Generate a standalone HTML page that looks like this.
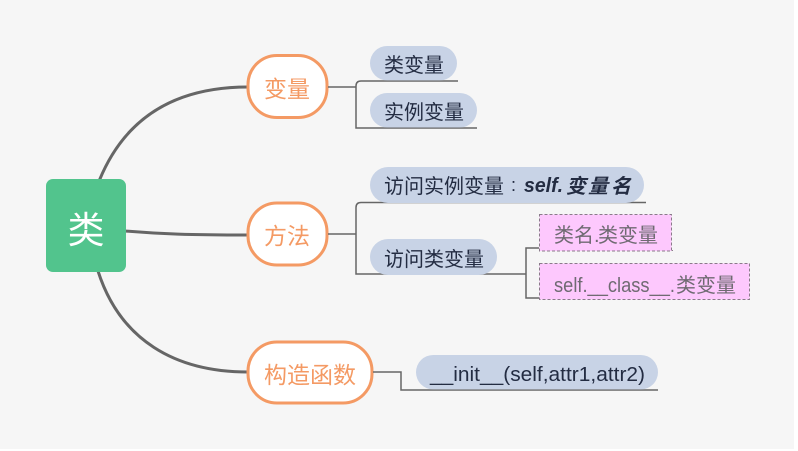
<!DOCTYPE html>
<html><head><meta charset="utf-8">
<style>
html,body{margin:0;padding:0;background:#fff;width:798px;height:451px;overflow:hidden}
svg{display:block}
text{font-family:"Liberation Sans","Noto Sans CJK SC",sans-serif;font-size:20px;fill:#232c42;font-weight:400}
.t{fill:#f49a64;font-size:23px}
.p{fill:#6f6a72}
.b{font-weight:700;font-style:italic}
</style></head><body>
<svg width="798" height="451" viewBox="0 0 798 451" xmlns="http://www.w3.org/2000/svg">
<rect x="0" y="0" width="794" height="449" fill="#f6f6f6"/>
<g fill="none" stroke="#666" stroke-width="3">
<path d="M99.500 180C125 118 175 87 248 87"/>
<path d="M125 231C160 234 190 235 248 235"/>
<path d="M98 271C120 340 175 372 248 372"/>
</g>
<rect x="46" y="179" width="80" height="93" rx="7" fill="#52c48d"/>
<text x="86" y="243" text-anchor="middle" style="font-size:37px;fill:#fff">类</text>
<g fill="#fff" stroke="#f49a64" stroke-width="3">
<rect x="248" y="55.500" width="79" height="62" rx="29"/>
<rect x="248" y="203" width="79" height="62" rx="29"/>
<rect x="248" y="342" width="124" height="61" rx="29"/>
</g>
<text class="t" x="264" y="97">变量</text>
<text class="t" x="264" y="244">方法</text>
<text class="t" x="264" y="383">构造函数</text>
<g fill="none" stroke="#666" stroke-width="1.500">
<path d="M328 87H356"/>
<path d="M458 81H361Q356 81 356 86V128H477"/>
<path d="M328 234H356"/>
<path d="M646 202.500H361Q356 202.500 356 207.500V274H526"/>
<path d="M539 248H526V298H539"/>
<path d="M373 372H401V390H658"/>
</g>
<g fill="#c8d3e6">
<rect x="370" y="46" width="87" height="34.400" rx="17.200"/>
<rect x="370" y="93" width="107" height="34.500" rx="17.200"/>
<rect x="370" y="167" width="274" height="36" rx="18"/>
<rect x="370" y="239" width="127" height="36" rx="18"/>
<rect x="416" y="355" width="242" height="34.400" rx="17.200"/>
</g>
<rect x="539.500" y="214.500" width="132" height="36.500" fill="#fdc8fd" stroke="#8a7a8a" stroke-dasharray="3 2"/>
<rect x="539.500" y="263.500" width="210" height="36" fill="#fdc8fd" stroke="#8a7a8a" stroke-dasharray="3 2"/>
<rect x="672" y="250" width="1" height="1" fill="#8a7a8a"/>
<text x="384" y="72">类变量</text>
<text x="384" y="119">实例变量</text>
<text x="384" y="193">访问实例变量</text>
<text x="511" y="191" style="font-size:18px">:</text>
<text class="b" x="524" y="192" textLength="39" lengthAdjust="spacingAndGlyphs">self.</text>
<text class="b" x="566" y="193">变</text>
<text class="b" x="588" y="193">量</text>
<text class="b" x="611" y="193">名</text>
<text x="384" y="266">访问类变量</text>
<text class="p" x="554" y="242">类名.</text>
<text class="p" x="598" y="242">类变量</text>
<text class="p" x="554" y="292" textLength="121" lengthAdjust="spacingAndGlyphs">self.__class__.</text>
<text class="p" x="676" y="292">类变量</text>
<text x="430" y="381" textLength="215" lengthAdjust="spacingAndGlyphs">__init__(self,attr1,attr2)</text>
</svg>
</body></html>
